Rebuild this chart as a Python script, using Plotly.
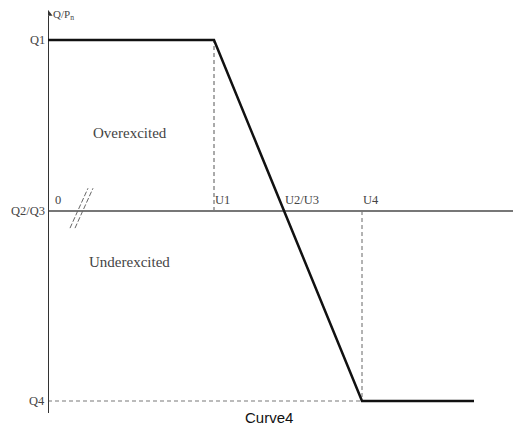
import plotly.graph_objects as go

# characteristic curve (schematic units)
u_curve = [0, 1.66, 3.14, 4.26]
q_curve = [0.9, 0.9, -1.0, -1.0]

# axis tick positions and labels
u_ticks = [1.66, 2.36, 3.14]
u_labels = ['U1', 'U2/U3', 'U4']
q_ticks = [0.9, 0.0, -1.0]
q_labels = ['Q1', 'Q2/Q3', 'Q4']

x_max = 4.70
y_min, y_max = -1.063, 1.058

serif = dict(family='Liberation Serif', size=12.5, color='#444')
big_serif = dict(family='Liberation Serif', size=15, color='#444')

fig = go.Figure()

# helper lines: dashed verticals and the dotted Q4 level
fig.add_trace(go.Scatter(x=[u_ticks[0], u_ticks[0]], y=[q_ticks[1], q_ticks[0]], mode='lines',
                         line=dict(color='#555', width=1, dash='4px,3px'), hoverinfo='skip'))
fig.add_trace(go.Scatter(x=[u_ticks[2], u_ticks[2]], y=[q_ticks[1], q_ticks[2]], mode='lines',
                         line=dict(color='#666', width=1, dash='4px,3px'), hoverinfo='skip'))
fig.add_trace(go.Scatter(x=[0, u_ticks[2]], y=[q_ticks[2], q_ticks[2]], mode='lines',
                         line=dict(color='#bbb', width=2, dash='4px,3px'), hoverinfo='skip'))

# axes
fig.add_trace(go.Scatter(x=[0, x_max - 0.04], y=[0, 0], mode='lines',
                         line=dict(color='#777', width=2), hoverinfo='skip'))
fig.add_trace(go.Scatter(x=[0, 0], y=[y_min, y_max - 0.03], mode='lines',
                         line=dict(color='#333', width=2), hoverinfo='skip'))
fig.add_trace(go.Scatter(x=[x_max - 0.03], y=[0], mode='markers',
                         marker=dict(symbol='triangle-right', size=8, color='#333'), hoverinfo='skip'))
fig.add_trace(go.Scatter(x=[0], y=[y_max - 0.02], mode='markers',
                         marker=dict(symbol='triangle-up', size=8, color='#333'), hoverinfo='skip'))

# axis break marks
for dx in [0, 0.05]:
    fig.add_trace(go.Scatter(x=[0.22 + dx, 0.40 + dx], y=[-0.09, 0.12], mode='lines',
                             line=dict(color='#666', width=1, dash='5px,2px'), hoverinfo='skip'))

# the curve
fig.add_trace(go.Scatter(x=u_curve, y=q_curve, mode='lines',
                         line=dict(color='#111', width=2.5), hoverinfo='skip'))

annotations = []
for q, lab in zip(q_ticks, q_labels):
    annotations.append(dict(x=0, y=q, text=lab, showarrow=False, xanchor='right',
                            xshift=-1, font=serif))
for u, lab in zip(u_ticks, u_labels):
    annotations.append(dict(x=u, y=0, text=lab, showarrow=False, xanchor='left',
                            yanchor='bottom', xshift=-1, yshift=2, font=serif))
annotations += [
    dict(x=0.05, y=0, text='0', showarrow=False, xanchor='left', yanchor='bottom',
         yshift=2, font=serif),
    dict(x=0.03, y=y_max - 0.025, text='Q/P<sub>n</sub>', showarrow=False, xanchor='left',
         yanchor='middle', font=dict(family='Liberation Serif', size=11, color='#444')),
    dict(x=x_max + 0.03, y=-0.08, text='U/U<sub>n</sub>', showarrow=False, xanchor='right',
         font=serif),
    dict(x=0.82, y=0.41, text='Overexcited', showarrow=False, font=big_serif),
    dict(x=0.81, y=-0.268, text='Underexcited', showarrow=False, font=big_serif),
    dict(x=0.47, xref='paper', y=0, yref='paper', yshift=-15, text='Curve4', showarrow=False,
         font=dict(family='Liberation Sans', size=15, color='#111')),
]

# the page body adds an 8px margin, so the figure is made 8px smaller
fig.update_layout(
    width=513, height=430,
    margin=dict(l=40, r=3, t=2, b=25),
    paper_bgcolor='white', plot_bgcolor='white',
    showlegend=False,
    xaxis=dict(range=[0, x_max], visible=False),
    yaxis=dict(range=[y_min, y_max], visible=False),
    annotations=annotations,
)

fig.write_html('out.html')
